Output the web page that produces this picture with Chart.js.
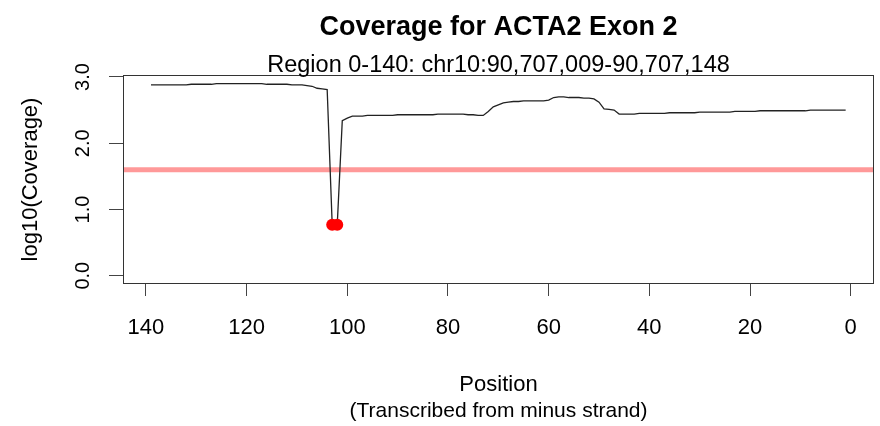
<!DOCTYPE html>
<html>
<head>
<meta charset="utf-8">
<script src="https://cdn.jsdelivr.net/npm/chart.js@4.4.1/dist/chart.umd.min.js"></script>
<style>
  html, body { margin: 0; padding: 0; background: #fff; }
  #wrap { width: 880px; height: 426px; }
</style>
</head>
<body>
<div id="wrap"><canvas id="covChart" width="880" height="426"></canvas></div>
<script>
// log10 coverage per base, positions 1..139
const coverage = [
  2.50, 2.50, 2.50, 2.50, 2.50, 2.50, 2.50, 2.50, 2.49, 2.49,
  2.49, 2.49, 2.49, 2.49, 2.49, 2.49, 2.49, 2.49, 2.48, 2.48,
  2.48, 2.48, 2.48, 2.47, 2.47, 2.47, 2.47, 2.47, 2.47, 2.47,
  2.46, 2.46, 2.46, 2.46, 2.46, 2.46, 2.45, 2.45, 2.45, 2.45,
  2.45, 2.45, 2.44, 2.44, 2.44, 2.44, 2.50, 2.51, 2.52, 2.62,
  2.67, 2.68, 2.68, 2.69, 2.69, 2.69, 2.70, 2.70, 2.69, 2.65,
  2.64, 2.64, 2.64, 2.64, 2.64, 2.63, 2.63, 2.62, 2.61, 2.58,
  2.55, 2.48, 2.42, 2.42, 2.43, 2.43, 2.44, 2.44, 2.44, 2.44,
  2.44, 2.44, 2.43, 2.43, 2.43, 2.43, 2.43, 2.43, 2.43, 2.43,
  2.42, 2.42, 2.42, 2.42, 2.42, 2.42, 2.41, 2.41, 2.41, 2.38,
  2.34, 0.77, 0.77, 2.81, 2.82, 2.83, 2.86, 2.87, 2.88, 2.88,
  2.88, 2.89, 2.89, 2.89, 2.89, 2.89, 2.90, 2.90, 2.90, 2.90,
  2.90, 2.90, 2.90, 2.90, 2.90, 2.90, 2.89, 2.89, 2.89, 2.89,
  2.89, 2.88, 2.88, 2.88, 2.88, 2.88, 2.88, 2.88, 2.88
];
const firstPosition = 1;
const threshold = 1.6;

const xTicks = [0, 20, 40, 60, 80, 100, 120, 140];
const yTicks = [0, 1, 2, 3];
const yTickLabels = ['0.0', '1.0', '2.0', '3.0'];

const titleText = 'Coverage for ACTA2 Exon 2';
const subtitleText = 'Region 0-140: chr10:90,707,009-90,707,148';
const xTitleLines = ['Position', '(Transcribed from minus strand)'];
const yTitleText = 'log10(Coverage)';

// axis limits padded like R's default 4% range extension
const X_MIN = -4.63, X_MAX = 144.56;
const Y_MIN = -0.125, Y_MAX = 3.03;

const FONT = '"Liberation Sans", Arial, Helvetica, sans-serif';

const linePoints = coverage.map((v, i) => ({ x: firstPosition + i, y: v }));
const lowPoints = linePoints.filter(p => p.y < threshold);

// box around the plot region, R base-graphics style labels
const rDecor = {
	id: 'rDecor',
	afterDatasetsDraw(chart) {
		const ctx = chart.ctx;
		const a = chart.chartArea;
		const ys = chart.scales.y;
		ctx.save();
		ctx.strokeStyle = '#333';
		ctx.lineWidth = 1;
		ctx.strokeRect(Math.round(a.left) + 0.5, Math.round(a.top) + 0.5,
			Math.round(a.right - a.left) - 1, Math.round(a.bottom - a.top) - 1);

		ctx.fillStyle = '#000';
		ctx.textAlign = 'center';
		ctx.textBaseline = 'alphabetic';
		const cx = (a.left + a.right) / 2;
		ctx.font = 'bold 27px ' + FONT;
		ctx.fillText(titleText, cx, 35);
		ctx.font = '23.5px ' + FONT;
		ctx.fillText(subtitleText, cx, 72);
		ctx.font = '22px ' + FONT;
		ctx.fillText(xTitleLines[0], cx, 391);
		ctx.font = '21px ' + FONT;
		ctx.fillText(xTitleLines[1], cx, 417);

		// rotated y labels
		ctx.textBaseline = 'middle';
		ctx.font = '20px ' + FONT;
		yTicks.forEach((v, i) => {
			ctx.save();
			ctx.translate(83, ys.getPixelForValue(v));
			ctx.rotate(-Math.PI / 2);
			ctx.fillText(yTickLabels[i], 0, 0);
			ctx.restore();
		});
		ctx.font = '22px ' + FONT;
		ctx.save();
		ctx.translate(31, (a.top + a.bottom) / 2);
		ctx.rotate(-Math.PI / 2);
		ctx.fillText(yTitleText, 0, 0);
		ctx.restore();
		ctx.restore();
	}
};

new Chart(document.getElementById('covChart'), {
	type: 'line',
	data: {
		datasets: [
			{
				data: lowPoints,
				showLine: false,
				pointRadius: 6,
				pointBackgroundColor: '#ff0000',
				pointBorderWidth: 0,
				order: 1
			},
			{
				data: linePoints,
				borderColor: '#222',
				borderWidth: 1.3,
				pointRadius: 0,
				tension: 0,
				fill: false,
				order: 2
			},
			{
				data: [{ x: X_MIN, y: threshold }, { x: X_MAX, y: threshold }],
				borderColor: 'rgba(255, 0, 0, 0.4)',
				borderWidth: 5,
				pointRadius: 0,
				fill: false,
				order: 3
			}
		]
	},
	options: {
		responsive: false,
		animation: false,
		events: [],
		layout: { padding: { left: 0, right: 3, top: 75, bottom: 0 } },
		plugins: { legend: { display: false }, tooltip: { enabled: false }, title: { display: false } },
		scales: {
			x: {
				type: 'linear',
				reverse: true,
				min: X_MIN,
				max: X_MAX,
				afterBuildTicks: s => { s.ticks = xTicks.map(v => ({ value: v })); },
				afterFit: s => { s.height = 142; },
				border: { display: false },
				grid: { drawOnChartArea: false, drawTicks: true, tickLength: 12, color: '#444', lineWidth: 1 },
				ticks: {
					color: '#000',
					padding: 19,
					maxRotation: 0,
					font: { family: FONT, size: 22 },
					callback: v => String(v)
				}
			},
			y: {
				type: 'linear',
				min: Y_MIN,
				max: Y_MAX,
				afterBuildTicks: s => { s.ticks = yTicks.map(v => ({ value: v })); },
				afterFit: s => { s.width = 123; },
				border: { display: false },
				grid: { drawOnChartArea: false, drawTicks: true, tickLength: 14, color: '#444', lineWidth: 1 },
				ticks: { display: false }
			}
		}
	},
	plugins: [rDecor]
});
</script>
</body>
</html>
